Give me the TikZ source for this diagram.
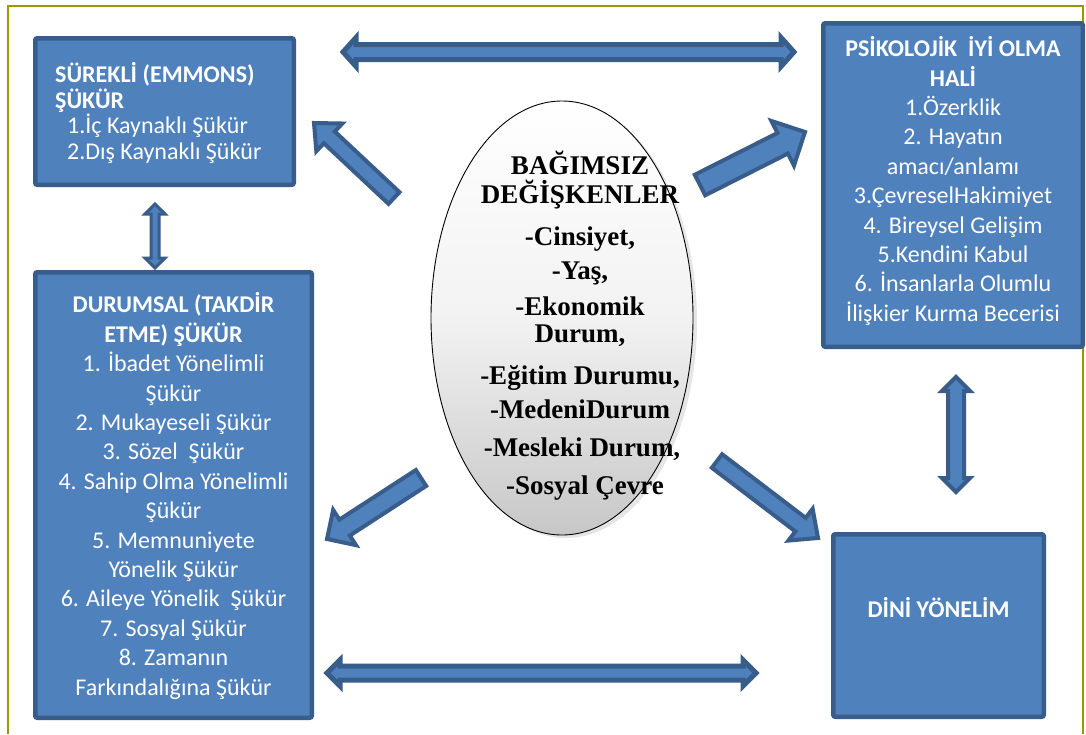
\documentclass[tikz,border=0pt]{standalone}
\usepackage{fontspec}
\setmainfont{Carlito}
\newfontfamily\ellfont{Liberation Serif}
\usetikzlibrary{calc,shapes.geometric,shadows}
\definecolor{boxfill}{HTML}{4F81BD}
\definecolor{boxline}{HTML}{385D8A}
\definecolor{frameol}{RGB}{153,153,0}
\tikzset{
  bluebox/.style={draw=boxline, fill=boxfill, line width=4.5pt, rounded corners=2pt, inner sep=0pt},
  boxtext/.style={text=white, font=\fontsize{24}{29.4}\selectfont, align=center, inner sep=0pt},
  elltext/.style={font=\ellfont\bfseries\fontsize{27}{30}\selectfont, inner sep=0pt, anchor=base},
  arrowstyle/.style={fill=boxfill, draw=boxline, line join=miter},
}
\newcommand{\blockarrow}[6]{% tail, tip, w, h, l, line width
  \coordinate (ba-h) at ($(#2)!#5!(#1)$);
  \filldraw[arrowstyle, line width=#6] ($(#1)!#3!90:(#2)$) -- ($(ba-h)!#3!90:(#2)$) -- ($(ba-h)!#4!90:(#2)$) -- (#2) -- ($(ba-h)!#4!-90:(#2)$) -- ($(ba-h)!#3!-90:(#2)$) -- ($(#1)!#3!-90:(#2)$) -- cycle;
}
\newcommand{\dblarrow}[6]{% end1, end2, w, h, l, line width
  \coordinate (da-h1) at ($(#2)!#5!(#1)$);
  \coordinate (da-h2) at ($(#1)!#5!(#2)$);
  \filldraw[arrowstyle, line width=#6] (#1) -- ($(da-h2)!#4!90:(#2)$) -- ($(da-h2)!#3!90:(#2)$) -- ($(da-h1)!#3!90:(#2)$) -- ($(da-h1)!#4!90:(#2)$) -- (#2) -- ($(da-h1)!#4!-90:(#2)$) -- ($(da-h1)!#3!-90:(#2)$) -- ($(da-h2)!#3!-90:(#2)$) -- ($(da-h2)!#4!-90:(#2)$) -- cycle;
}
\begin{document}
\begin{tikzpicture}[x=1pt, y=-1pt]
\useasboundingbox (0,0) rectangle (1086,734);
\fill[white] (0,0) rectangle (1086,734);
% frame
\draw[frameol, line width=2pt] (8,734) -- (8,6) -- (1083,6) -- (1083,734);

% boxes
\node[bluebox, minimum width=258.5pt, minimum height=146.5pt] (b1) at (164.5,111.5) {};
\node[bluebox, minimum width=276.5pt, minimum height=445.5pt] (b2) at (173.5,495) {};
\node[bluebox, minimum width=259.5pt, minimum height=323.5pt] (b3) at (953,185) {};
\node[bluebox, minimum width=210.5pt, minimum height=182.5pt] (b4) at (938.5,625.5) {};

\node[boxtext, align=left, anchor=west, font=\fontsize{24}{25.6}\selectfont] (t1) at (55,113) {\textbf{SÜREKLİ (EMMONS)}\\\textbf{ŞÜKÜR}\\\hspace*{12pt}1.İç Kaynaklı Şükür\\\hspace*{12pt}2.Dış Kaynaklı Şükür};

\node[boxtext] (t2) at (173.5,496) {\textbf{DURUMSAL (TAKDİR}\\\textbf{ETME) ŞÜKÜR}\\1. İbadet Yönelimli\\Şükür\\2. Mukayeseli Şükür\\3. Sözel\ \ Şükür\\4. Sahip Olma Yönelimli\\Şükür\\5. Memnuniyete\\Yönelik Şükür\\6. Aileye Yönelik\ \ Şükür\\7. Sosyal Şükür\\8. Zamanın\\Farkındalığına Şükür};

\node[boxtext] (t3) at (953,181) {\textbf{PSİKOLOJİK\ \ İYİ OLMA}\\\textbf{HALİ}\\1.Özerklik\\2. Hayatın\\amacı/anlamı\\3.ÇevreselHakimiyet\\4. Bireysel Gelişim\\5.Kendini Kabul\\6. İnsanlarla Olumlu\\İlişkier Kurma Becerisi};

\node[boxtext, font=\bfseries\fontsize{24}{29.4}\selectfont] (t4) at (938.5,608) {DİNİ YÖNELİM};

% ellipse
\node[ellipse, draw=black, line width=0.9pt, minimum width=262pt, minimum height=434pt,
      top color=white, bottom color=black!22, middle color=black!5,
      drop shadow={opacity=0.2, shadow xshift=4pt, shadow yshift=-3pt}] (ell) at (562,318) {};
\node[elltext] (e1) at (580,174) {BAĞIMSIZ};
\node[elltext] (e2) at (580,203) {DEĞİŞKENLER};
\node[elltext] (e3) at (580,245) {-Cinsiyet,};
\node[elltext] (e4) at (580,279) {-Yaş,};
\node[elltext] (e5) at (580,315) {-Ekonomik};
\node[elltext] (e6) at (580,342) {Durum,};
\node[elltext] (e7) at (580,384) {-Eğitim Durumu,};
\node[elltext] (e8) at (580,418) {-MedeniDurum};
\node[elltext] (e9) at (582,456) {-Mesleki Durum,};
\node[elltext] (e10) at (585,494) {-Sosyal Çevre};

% arrow end points
\coordinate (a1l) at (343,52);  \coordinate (a1r) at (794,52);
\coordinate (a2l) at (327,673); \coordinate (a2r) at (756,673);
\coordinate (a3t) at (155,204); \coordinate (a3b) at (155,268);
\coordinate (a4t) at (956,377); \coordinate (a4b) at (956,492);
\coordinate (d1s) at (394,198); \coordinate (d1e) at (314,123);
\coordinate (d2s) at (700,185); \coordinate (d2e) at (805,132);
\coordinate (d3s) at (421,478); \coordinate (d3e) at (327,539);
\coordinate (d4s) at (717,461); \coordinate (d4e) at (818,538);

\dblarrow{a1l}{a1r}{7.5pt}{14.5pt}{13pt}{5pt}
\dblarrow{a2l}{a2r}{7pt}{13pt}{13pt}{5pt}
\dblarrow{a3t}{a3b}{4pt}{10pt}{10pt}{3pt}
\dblarrow{a4t}{a4b}{8pt}{14pt}{14pt}{4pt}
\blockarrow{d1s}{d1e}{8pt}{19pt}{21pt}{4pt}
\blockarrow{d2s}{d2e}{11.5pt}{25pt}{25pt}{4pt}
\blockarrow{d3s}{d3e}{9.5pt}{21pt}{21pt}{4pt}
\blockarrow{d4s}{d4e}{8.5pt}{20pt}{22pt}{4pt}
\end{tikzpicture}
\end{document}
